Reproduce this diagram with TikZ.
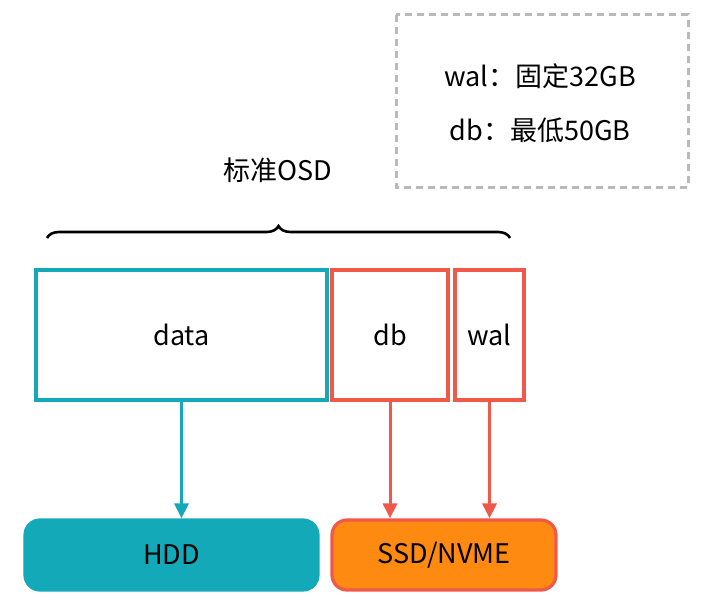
\documentclass[tikz,border=0pt]{standalone}
\usepackage{fontspec}
\setmainfont{Noto Sans CJK SC}
\usetikzlibrary{decorations.pathreplacing,arrows.meta}
\definecolor{tealc}{HTML}{13A9B9}
\definecolor{coral}{HTML}{F0584A}
\definecolor{orangec}{HTML}{FF8A12}
\tikzset{
  part/.style={draw, line width=3.2pt, inner sep=0pt, font=\fontsize{27}{32}\selectfont},
  disk/.style={rounded corners=15pt, line width=3.2pt, inner sep=0pt, font=\fontsize{27}{32}\selectfont},
  link/.style={line width=3pt, -{Triangle[length=15pt,width=14pt]}},
}
\begin{document}
\begin{tikzpicture}[x=1pt,y=-1pt]
\useasboundingbox (0,0) rectangle (701,602);
% note box
\draw[gray!55, line width=3pt, dash pattern=on 7pt off 5pt] (396,15) rectangle (688,187);
\node[font=\fontsize{27}{32}\selectfont] (walnote) at (540,76) {wal：固定32GB};
\node[font=\fontsize{27}{32}\selectfont] (dbnote) at (540,130) {db：最低50GB};
% osd
\node[font=\fontsize{27}{32}\selectfont] (osd) at (278,170) {标准OSD};
\draw[line width=2.6pt, decorate, decoration={brace, amplitude=12pt}] (47,238) -- (510,238);
\node[part, draw=tealc, minimum width=291pt, minimum height=130pt] (data) at (181.5,335) {data};
\node[part, draw=coral, minimum width=116pt, minimum height=130pt] (db) at (390,335) {db};
\node[part, draw=coral, minimum width=69pt, minimum height=130pt] (wal) at (489.5,335) {wal};
% devices
\node[disk, draw=tealc, fill=tealc, minimum width=293pt, minimum height=70pt] (hdd) at (171.5,555) {HDD};
\node[disk, draw=coral, fill=orangec, minimum width=224pt, minimum height=70pt] (ssd) at (444,555) {SSD/NVME};
\draw[link, tealc] (data.south) -- (hdd.north -| data.south);
\draw[link, coral] (db.south) -- (ssd.north -| db.south);
\draw[link, coral] (wal.south) -- (ssd.north -| wal.south);
\end{tikzpicture}
\end{document}
